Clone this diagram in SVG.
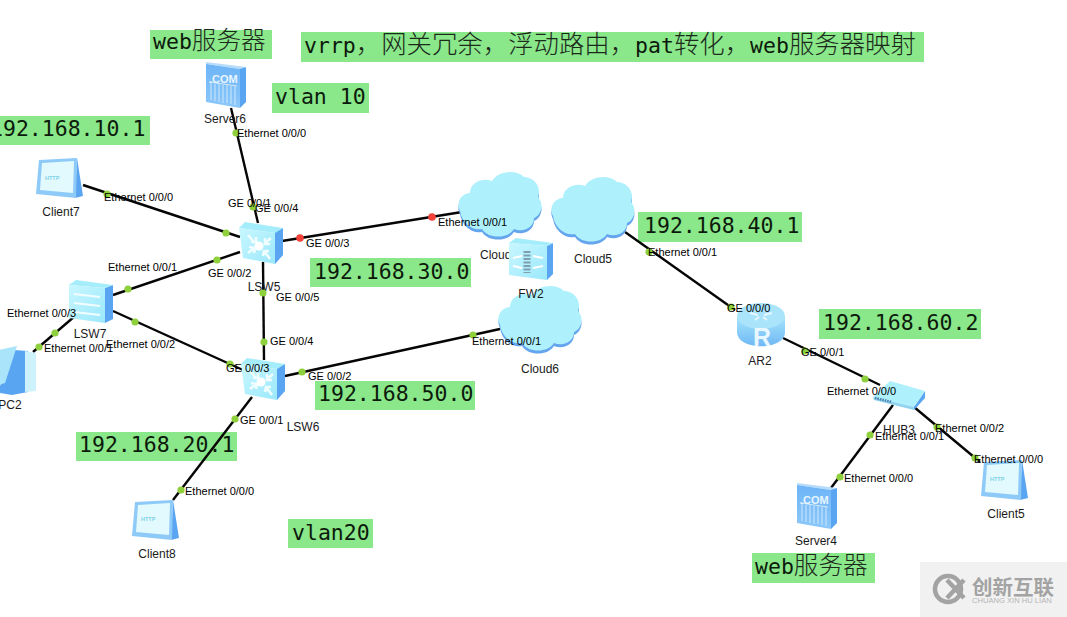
<svg xmlns="http://www.w3.org/2000/svg" width="1067" height="617" viewBox="0 0 1067 617">
<style>
.bg{fill:#fff}
.tag{fill:#8ae78a}
.tt{font-family:"DejaVu Sans Mono","Noto Sans CJK SC",monospace;font-size:21.5px;fill:#0c1a0c}
.cj{font-family:"Noto Sans CJK SC",sans-serif;font-size:24.6px;font-weight:300;fill:#1c2a1c}
.cw{font-size:25.4px}
.n{font-family:"Liberation Sans",Arial,sans-serif;font-size:12px;fill:#1a1a1a;text-anchor:middle}
.p{font-family:"Liberation Sans",Arial,sans-serif;font-size:11px;fill:#000}
.l{stroke:#050505;stroke-width:2.4;fill:none}
.g{fill:#8ed13c}
.r{fill:#f4413a}
.side{fill:#5aa5f2}
.ic{font-family:"Liberation Sans",Arial,sans-serif;font-weight:bold}
</style>
<defs>
<linearGradient id="fc" x1="0" y1="0" x2="1" y2="1"><stop offset="0" stop-color="#c8f7ff"/><stop offset="1" stop-color="#9be8fb"/></linearGradient>
<linearGradient id="sv" x1="0" y1="0" x2="0" y2="1"><stop offset="0" stop-color="#6db4f7"/><stop offset="1" stop-color="#8cc8fa"/></linearGradient>
<linearGradient id="rt" x1="0" y1="0" x2="0" y2="1"><stop offset="0" stop-color="#a5e4fb"/><stop offset="1" stop-color="#6fb8f5"/></linearGradient>
<g id="cloud">
<path transform="translate(0,3)" fill="#65a5ee" d="M2 40C-3 30 5 22 12 22C12 12 24 6 34 10C40 0 58 -2 66 6C76 6 84 16 80 26C86 32 84 44 76 47C76 56 66 62 56 58C50 68 30 68 24 58C14 60 4 52 2 40Z"/>
<path fill="#aef1fc" d="M2 40C-3 30 5 22 12 22C12 12 24 6 34 10C40 0 58 -2 66 6C76 6 84 16 80 26C86 32 84 44 76 47C76 56 66 62 56 58C50 68 30 68 24 58C14 60 4 52 2 40Z"/>
</g>
<g id="sw">
<path class="side" d="M36 10L44 6V33L36 42Z"/>
<path fill="#a5edfb" d="M0 6L6 0L44 6L36 11Z"/>
<path fill="url(#fc)" d="M0 6L36 11V42L4 36Z"/>
<g stroke="#f0fdff" stroke-width="2.6" fill="none"><path d="M9 13L15 20M32 16L25 22M9 31L15 26M31 37L25 29M12 20H17V15M26 16V22H31M10 25L16 26L15 31M24 34L25 29L30 29"/></g>
<circle cx="20" cy="24" r="4.5" fill="#fff"/>
</g>
<g id="srv">
<path class="side" d="M34 6L40 5V40L34 46Z"/>
<path fill="#b7dcfb" d="M0 0L40 5L34 7L0 2Z"/>
<path fill="url(#sv)" d="M0 2L34 7V46L0 40Z"/>
<g stroke="#cfe8fc" stroke-width="1" fill="none"><path d="M3 20L31 24M5 21V38M9 22V39M13 22V40M17 23V41M21 23V41M25 24V42M29 24V43"/></g>
</g>
<g id="cli">
<path class="side" d="M41 0L47 38L39 40Z"/>
<path fill="#8ecaf8" d="M3 2L41 0L40 40L0 36Z"/>
<path fill="#e2fafe" d="M6 5L38 3L37 35L4 32Z"/>
</g>
</defs>
<rect class="bg" width="1067" height="617"/>
<g id="tags">
<rect class="tag" x="150" y="30" width="122" height="29"/><text class="tt" x="153" y="49">web<tspan class="cj">服务器</tspan></text>
<rect class="tag" x="301" y="32" width="623" height="30"/><text class="tt" x="304" y="53">vrrp<tspan class="cj cw">，网关冗余，浮动路由，</tspan>pat<tspan class="cj cw">转化，</tspan>web<tspan class="cj cw">服务器映射</tspan></text>
<rect class="tag" x="272" y="83" width="97" height="30"/><text class="tt" x="275" y="104">vlan 10</text>
<rect class="tag" x="0" y="116" width="150" height="29"/><text class="tt" x="-10" y="136">192.168.10.1</text>
<rect class="tag" x="638" y="212" width="164" height="30"/><text class="tt" x="644" y="233">192.168.40.1</text>
<rect class="tag" x="310" y="258" width="161" height="29"/><text class="tt" x="314" y="279">192.168.30.0</text>
<rect class="tag" x="819" y="309" width="162" height="30"/><text class="tt" x="823" y="330">192.168.60.2</text>
<rect class="tag" x="315" y="381" width="160" height="29"/><text class="tt" x="318" y="401">192.168.50.0</text>
<rect class="tag" x="76" y="432" width="161" height="29"/><text class="tt" x="79" y="452">192.168.20.1</text>
<rect class="tag" x="288" y="519" width="85" height="29"/><text class="tt" x="292" y="540">vlan20</text>
<rect class="tag" x="752" y="553" width="123" height="30"/><text class="tt" x="755" y="574">web<tspan class="cj">服务器</tspan></text>
</g>
<g id="connectors">
<path class="l" d="M231 108L258 223"/>
<path class="l" d="M83 185L240 237"/>
<path class="l" d="M113 295L240 252"/>
<path class="l" d="M282 241L462 212"/>
<path class="l" d="M263 262L264 360"/>
<path class="l" d="M113 311L243 370"/>
<path class="l" d="M75 316L33 352"/>
<path class="l" d="M285 376L500 329"/>
<path class="l" d="M252 397L173 500"/>
<path class="l" d="M625 232L735 310"/>
<path class="l" d="M783 338L880 385"/>
<path class="l" d="M893 405L831 488"/>
<path class="l" d="M914 407L980 462"/>
</g>
<g id="node-server6"><use href="#srv" x="206" y="62"/><text class="ic" x="209" y="83" font-size="11" fill="#e8f5ff">.COM</text><text class="n" x="225" y="123">Server6</text></g>
<g id="node-client7"><use href="#cli" x="36" y="158"/><text class="ic" x="45" y="180" font-size="5.5" fill="#7fd2e6">HTTP</text><text class="n" x="61" y="216">Client7</text></g>
<g id="node-cloud4"><use href="#cloud" x="458" y="171"/><text class="n" x="499" y="259">Cloud4</text></g>
<g id="node-cloud5"><use href="#cloud" x="551" y="176"/><text class="n" x="593" y="263">Cloud5</text></g>
<g id="node-cloud6"><use href="#cloud" x="498" y="285"/><text class="n" x="540" y="373">Cloud6</text></g>
<g id="node-fw2">
<path class="side" d="M547 246L553 243V274L547 280Z"/>
<path fill="#a5edfb" d="M509 243L516 238L553 243L547 246Z"/>
<path fill="url(#fc)" d="M509 243L547 246V280L509 275Z"/>
<path fill="none" stroke="#7f9fb0" stroke-width="7" stroke-dasharray="2 1.5" d="M527 251V273"/>
<path stroke="#fff" stroke-width="2" d="M513 258L522 256M513 266L522 268M533 256L543 258M533 268L543 266"/>
<text class="n" x="531" y="298">FW2</text></g>
<g id="node-lsw5"><use href="#sw" x="239" y="222"/><text class="n" x="264" y="291">LSW5</text></g>
<g id="node-lsw6"><use href="#sw" x="241" y="358"/><text class="n" x="303" y="431">LSW6</text></g>
<g id="node-lsw7">
<path class="side" d="M105 288L113 285V319L105 323Z"/>
<path fill="#a5edfb" d="M69 285L76 280L113 285L105 288Z"/>
<path fill="url(#fc)" d="M69 285L105 288V323L69 318Z"/>
<path stroke="#f2fdff" stroke-width="2" fill="none" d="M74 294L100 297M74 303L100 306M74 312L100 315"/>
<text class="n" x="90" y="338">LSW7</text></g>
<g id="node-pc2">
<path fill="#5aa5f2" d="M-5 392L0 386L14 350L28 351L28 392L12 395Z"/>
<path fill="#a9e4fb" d="M-5 351L17 346L5 383L-5 386Z"/>
<path fill="#cdf2fc" d="M25 351L36 353V391L25 392Z"/>
<text class="n" x="10" y="409">PC2</text></g>
<g id="node-client8"><use href="#cli" x="132" y="500"/><text class="ic" x="141" y="521" font-size="5.5" fill="#7fd2e6">HTTP</text><text class="n" x="157" y="558">Client8</text></g>
<g id="node-ar2">
<path fill="url(#rt)" d="M737 317V332C737 351 785 351 785 332V317Z"/>
<ellipse cx="761" cy="316" rx="24" ry="13" fill="#a9e4fb"/>
<path stroke="#e8f7ff" stroke-width="2" fill="none" d="M750 313L758 315M772 313L764 315M755 320L759 317M767 320L763 317"/>
<text class="ic" x="762" y="346" font-size="25" fill="#e8f7ff" text-anchor="middle">R</text>
<text class="n" x="760" y="365">AR2</text></g>
<g id="node-hub3">
<path fill="#5aa5f2" d="M914 407L925 391V398L914 410Z"/>
<path fill="#aef0fb" d="M873 397L890 381L925 391L914 407Z"/>
<path fill="#8fd3ef" d="M873 397L914 407V410L874 400Z"/>
<path stroke="#4d7fae" stroke-width="2.5" stroke-dasharray="1.5 1" d="M875 398L892 402"/>
<text class="n" x="899" y="434">HUB3</text></g>
<g id="node-server4"><use href="#srv" x="797" y="483"/><text class="ic" x="800" y="504" font-size="11" fill="#e8f5ff">.COM</text><text class="n" x="816" y="545">Server4</text></g>
<g id="node-client5"><use href="#cli" x="981" y="460"/><text class="ic" x="990" y="481" font-size="5.5" fill="#7fd2e6">HTTP</text><text class="n" x="1006" y="518">Client5</text></g>
<g id="dots">
<circle class="g" cx="236" cy="133" r="3.6"/><circle class="g" cx="253" cy="207" r="3.6"/>
<circle class="g" cx="107" cy="194" r="3.6"/><circle class="g" cx="226" cy="233" r="3.6"/>
<circle class="g" cx="128" cy="289" r="3.6"/><circle class="g" cx="217" cy="260" r="3.6"/>
<circle class="r" cx="300" cy="238" r="3.8"/><circle class="r" cx="432" cy="217" r="3.8"/>
<circle class="g" cx="263" cy="293" r="3.6"/><circle class="g" cx="264" cy="342" r="3.6"/>
<circle class="g" cx="135" cy="322" r="3.6"/><circle class="g" cx="230" cy="364" r="3.6"/>
<circle class="g" cx="55" cy="333" r="3.6"/><circle class="g" cx="39" cy="347" r="3.6"/>
<circle class="g" cx="302" cy="372" r="3.6"/><circle class="g" cx="473" cy="335" r="3.6"/>
<circle class="g" cx="235" cy="419" r="3.6"/><circle class="g" cx="181" cy="490" r="3.6"/>
<circle class="g" cx="649" cy="252" r="3.6"/><circle class="g" cx="731" cy="307" r="3.6"/>
<circle class="g" cx="805" cy="351" r="3.6"/><circle class="g" cx="865" cy="379" r="3.6"/>
<circle class="g" cx="870" cy="435" r="3.6"/><circle class="g" cx="840" cy="477" r="3.6"/>
<circle class="g" cx="937" cy="427" r="3.6"/><circle class="g" cx="975" cy="458" r="3.6"/>
</g>
<g id="ports">
<text class="p" x="237" y="137">Ethernet 0/0/0</text>
<text class="p" x="228" y="207">GE 0/0/1</text>
<text class="p" x="255" y="212">GE 0/0/4</text>
<text class="p" x="104" y="201">Ethernet 0/0/0</text>
<text class="p" x="108" y="271">Ethernet 0/0/1</text>
<text class="p" x="208" y="277">GE 0/0/2</text>
<text class="p" x="306" y="247">GE 0/0/3</text>
<text class="p" x="276" y="301">GE 0/0/5</text>
<text class="p" x="438" y="226">Ethernet 0/0/1</text>
<text class="p" x="472" y="345">Ethernet 0/0/1</text>
<text class="p" x="270" y="345">GE 0/0/4</text>
<text class="p" x="226" y="372">GE 0/0/3</text>
<text class="p" x="308" y="380">GE 0/0/2</text>
<text class="p" x="240" y="424">GE 0/0/1</text>
<text class="p" x="7" y="317">Ethernet 0/0/3</text>
<text class="p" x="44" y="352">Ethernet 0/0/1</text>
<text class="p" x="106" y="348">Ethernet 0/0/2</text>
<text class="p" x="185" y="495">Ethernet 0/0/0</text>
<text class="p" x="648" y="256">Ethernet 0/0/1</text>
<text class="p" x="727" y="312">GE 0/0/0</text>
<text class="p" x="801" y="356">GE 0/0/1</text>
<text class="p" x="827" y="395">Ethernet 0/0/0</text>
<text class="p" x="875" y="440">Ethernet 0/0/1</text>
<text class="p" x="935" y="432">Ethernet 0/0/2</text>
<text class="p" x="974" y="463">Ethernet 0/0/0</text>
<text class="p" x="844" y="482">Ethernet 0/0/0</text>
</g>
<g id="watermark">
<rect x="920" y="562" width="147" height="55" fill="#f1f1f1"/>
<circle cx="948" cy="589" r="13" fill="none" stroke="#a3a3a3" stroke-width="4.5"/>
<path d="M947 580L964 598M964 580L947 598" stroke="#a3a3a3" stroke-width="4.5" fill="none"/>
<text x="972" y="595" font-family="'Noto Sans CJK SC',sans-serif" font-size="20.5" font-weight="bold" fill="#a3a3a3">创新互联</text>
<text x="972" y="603" font-family="'Liberation Sans',sans-serif" font-size="7.6" fill="#b5b5b5">CHUANG XIN HU LIAN</text>
</g>
</svg>
